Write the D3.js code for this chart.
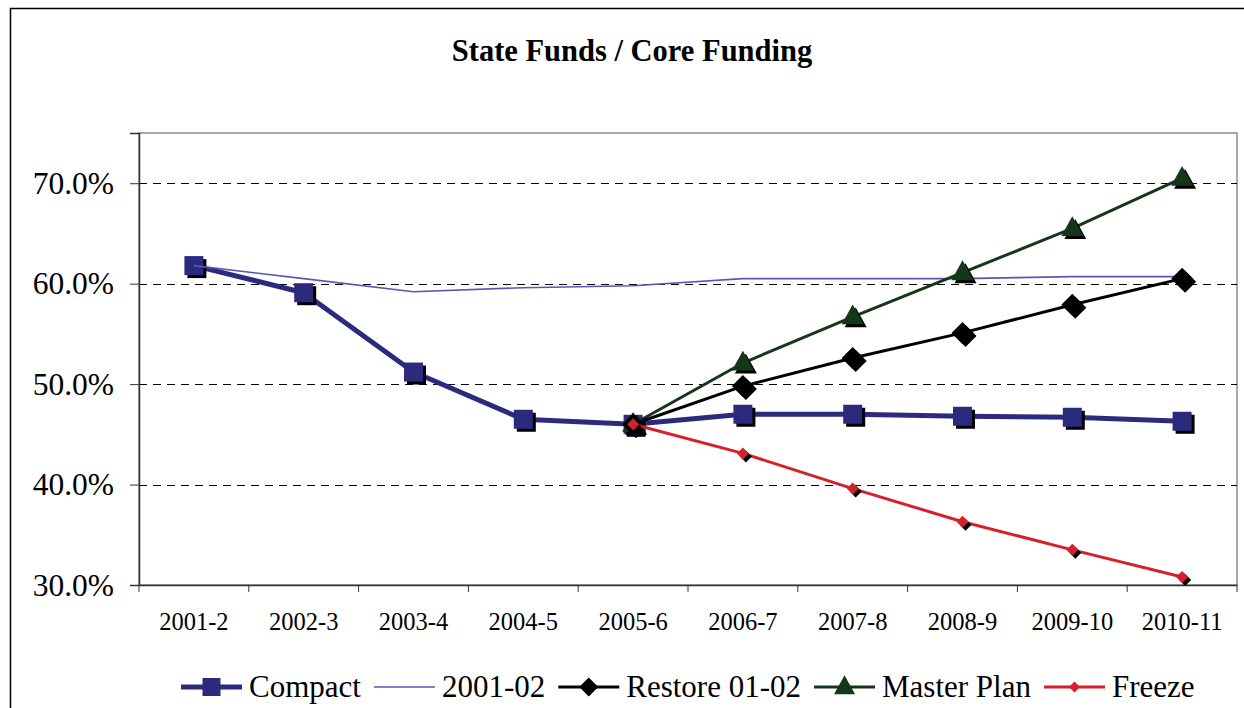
<!DOCTYPE html>
<html>
<head>
<meta charset="utf-8">
<script src="https://cdn.jsdelivr.net/npm/d3@7"></script>
<style>
  body { margin: 0; background: #fff; }
  svg text { font-family: "Liberation Serif", "Times New Roman", Tinos, Times, "DejaVu Serif", serif; }
</style>
</head>
<body>
<div id="chart"></div>
<script>
// data (percent)
var categories = ["2001-2", "2002-3", "2003-4", "2004-5", "2005-6",
                  "2006-7", "2007-8", "2008-9", "2009-10", "2010-11"];
var compact    = [61.8, 59.1, 51.2, 46.5, 46.0, 47.0, 47.0, 46.8, 46.7, 46.3];
var base0102   = [61.8, 60.5, 59.2, 59.6, 59.8, 60.5, 60.5, 60.5, 60.7, 60.7];
var restore    = [null, null, null, null, 46.0, 49.8, 52.6, 55.1, 57.9, 60.5];
var masterPlan = [null, null, null, null, 46.0, 52.1, 56.7, 61.1, 65.5, 70.5];
var freeze     = [null, null, null, null, 46.0, 43.1, 39.6, 36.3, 33.5, 30.8];
var yTicks = [30, 40, 50, 60, 70];

var width = 1244, height = 708;
var plot = {left: 139, top: 133, right: 1237, bottom: 585};

var svg = d3.select("#chart").append("svg")
    .attr("width", width)
    .attr("height", height);

svg.append("rect").attr("width", width).attr("height", height).attr("fill", "#fff");

// outer chart border (right and bottom fall off the picture)
svg.append("path")
    .attr("d", "M10.5," + height + "V8.5H" + width)
    .attr("fill", "none")
    .attr("stroke", "#000")
    .attr("stroke-width", 1.5);

svg.append("text")
    .attr("x", 632)
    .attr("y", 61)
    .attr("text-anchor", "middle")
    .attr("font-weight", "bold")
    .attr("font-size", 30.5)
    .text("State Funds / Core Funding");

var x = d3.scaleBand().domain(categories).range([plot.left, plot.right]);
var y = d3.scaleLinear().domain([30, 75]).range([plot.bottom, plot.top]);
var cx = function (i) { return x(categories[i]) + x.bandwidth() / 2; };

// plot frame
svg.append("rect")
    .attr("x", plot.left).attr("y", plot.top)
    .attr("width", plot.right - plot.left)
    .attr("height", plot.bottom - plot.top)
    .attr("fill", "none")
    .attr("stroke", "#8c8c8c")
    .attr("stroke-width", 1.5);

// dashed gridlines
svg.append("g").selectAll("line")
    .data(yTicks.filter(function (d) { return d > 30; }))
    .enter().append("line")
      .attr("x1", plot.left).attr("x2", plot.right)
      .attr("y1", function (d) { return Math.round(y(d)) + 0.5; })
      .attr("y2", function (d) { return Math.round(y(d)) + 0.5; })
      .attr("stroke", "#000")
      .attr("stroke-dasharray", "8,6");

// y axis
var yAxis = svg.append("g")
    .attr("transform", "translate(" + plot.left + ",0)")
    .call(d3.axisLeft(y).tickValues(yTicks).tickSize(9).tickPadding(16)
      .tickFormat(function (d) { return d3.format(".1f")(d) + "%"; }));
yAxis.select(".domain").attr("stroke", "#333").attr("stroke-width", 1.5);
yAxis.selectAll(".tick line").attr("stroke", "#333");
yAxis.selectAll("text").attr("font-size", 31.5).attr("fill", "#000");

// x axis: labels centred in bands, ticks on band edges
var xAxis = svg.append("g")
    .attr("transform", "translate(0," + plot.bottom + ")")
    .call(d3.axisBottom(x).tickSize(0).tickPadding(28));
xAxis.select(".domain").attr("stroke", "#333").attr("stroke-width", 1.5);
xAxis.selectAll("text").attr("font-size", 24.5).attr("fill", "#000");
xAxis.selectAll(".edge")
    .data(d3.range(categories.length + 1))
    .enter().append("line")
      .attr("x1", function (i) { return plot.left + i * x.bandwidth(); })
      .attr("x2", function (i) { return plot.left + i * x.bandwidth(); })
      .attr("y1", 0).attr("y2", 7)
      .attr("stroke", "#333");

// marker shapes
function diamond(d) {
  var h = d / 2;
  return "M0," + (-h) + "L" + h + ",0L0," + h + "L" + (-h) + ",0Z";
}
function square(s) {
  var h = s / 2;
  return "M" + (-h) + "," + (-h) + "h" + s + "v" + s + "h" + (-s) + "Z";
}
function triangle(w) {
  var h = w * 0.9;
  return "M0," + (-h * 0.62) + "L" + (w / 2) + "," + (h * 0.38) + "L" + (-w / 2) + "," + (h * 0.38) + "Z";
}

var series = [
  {name: "Compact",     values: compact,    color: "#2b2a7d", width: 5,   marker: square(19),   legendMarker: square(18)},
  {name: "2001-02",     values: base0102,   color: "#5b56b4", width: 1.6, marker: null,         legendMarker: null},
  {name: "Master Plan", values: masterPlan, color: "#163619", width: 3,   marker: triangle(22), legendMarker: triangle(21)},
  {name: "Restore 01-02", values: restore,  color: "#000000", width: 3,   marker: diamond(22),  legendMarker: diamond(19)},
  {name: "Freeze",      values: freeze,     color: "#d4212b", width: 3,   marker: diamond(12),  legendMarker: diamond(11)}
];

var line = d3.line()
    .defined(function (d) { return d != null; })
    .x(function (d, i) { return cx(i); })
    .y(function (d) { return y(d); });

series.forEach(function (s) {
  var g = svg.append("g");
  g.append("path")
      .attr("d", line(s.values))
      .attr("fill", "none")
      .attr("stroke", s.color)
      .attr("stroke-width", s.width)
      .attr("stroke-linejoin", "round");
  if (!s.marker) return;
  var pts = s.values.map(function (v, i) { return {v: v, i: i}; })
      .filter(function (p) { return p.v != null; });
  // drop shadow
  g.selectAll(".shadow").data(pts).enter().append("path")
      .attr("d", s.marker)
      .attr("transform", function (p) { return "translate(" + (cx(p.i) + 3) + "," + (y(p.v) + 3) + ")"; })
      .attr("fill", "#000");
  g.selectAll(".mark").data(pts).enter().append("path")
      .attr("d", s.marker)
      .attr("transform", function (p) { return "translate(" + cx(p.i) + "," + y(p.v) + ")"; })
      .attr("fill", s.color);
});

// legend in Excel order
var legendOrder = ["Compact", "2001-02", "Restore 01-02", "Master Plan", "Freeze"];
var lx = 181, ly = 687;
var legend = svg.append("g");
legendOrder.forEach(function (name) {
  var s = series.filter(function (d) { return d.name === name; })[0];
  legend.append("line")
      .attr("x1", lx).attr("x2", lx + 61)
      .attr("y1", ly).attr("y2", ly)
      .attr("stroke", s.color)
      .attr("stroke-width", s.width);
  if (s.legendMarker) {
    legend.append("path")
        .attr("d", s.legendMarker)
        .attr("transform", "translate(" + (lx + 30.5) + "," + ly + ")")
        .attr("fill", s.color);
  }
  var t = legend.append("text")
      .attr("x", lx + 68)
      .attr("y", ly + 10)
      .attr("font-size", 31)
      .text(name);
  lx += 68 + t.node().getComputedTextLength() + 13;
});
</script>
</body>
</html>
